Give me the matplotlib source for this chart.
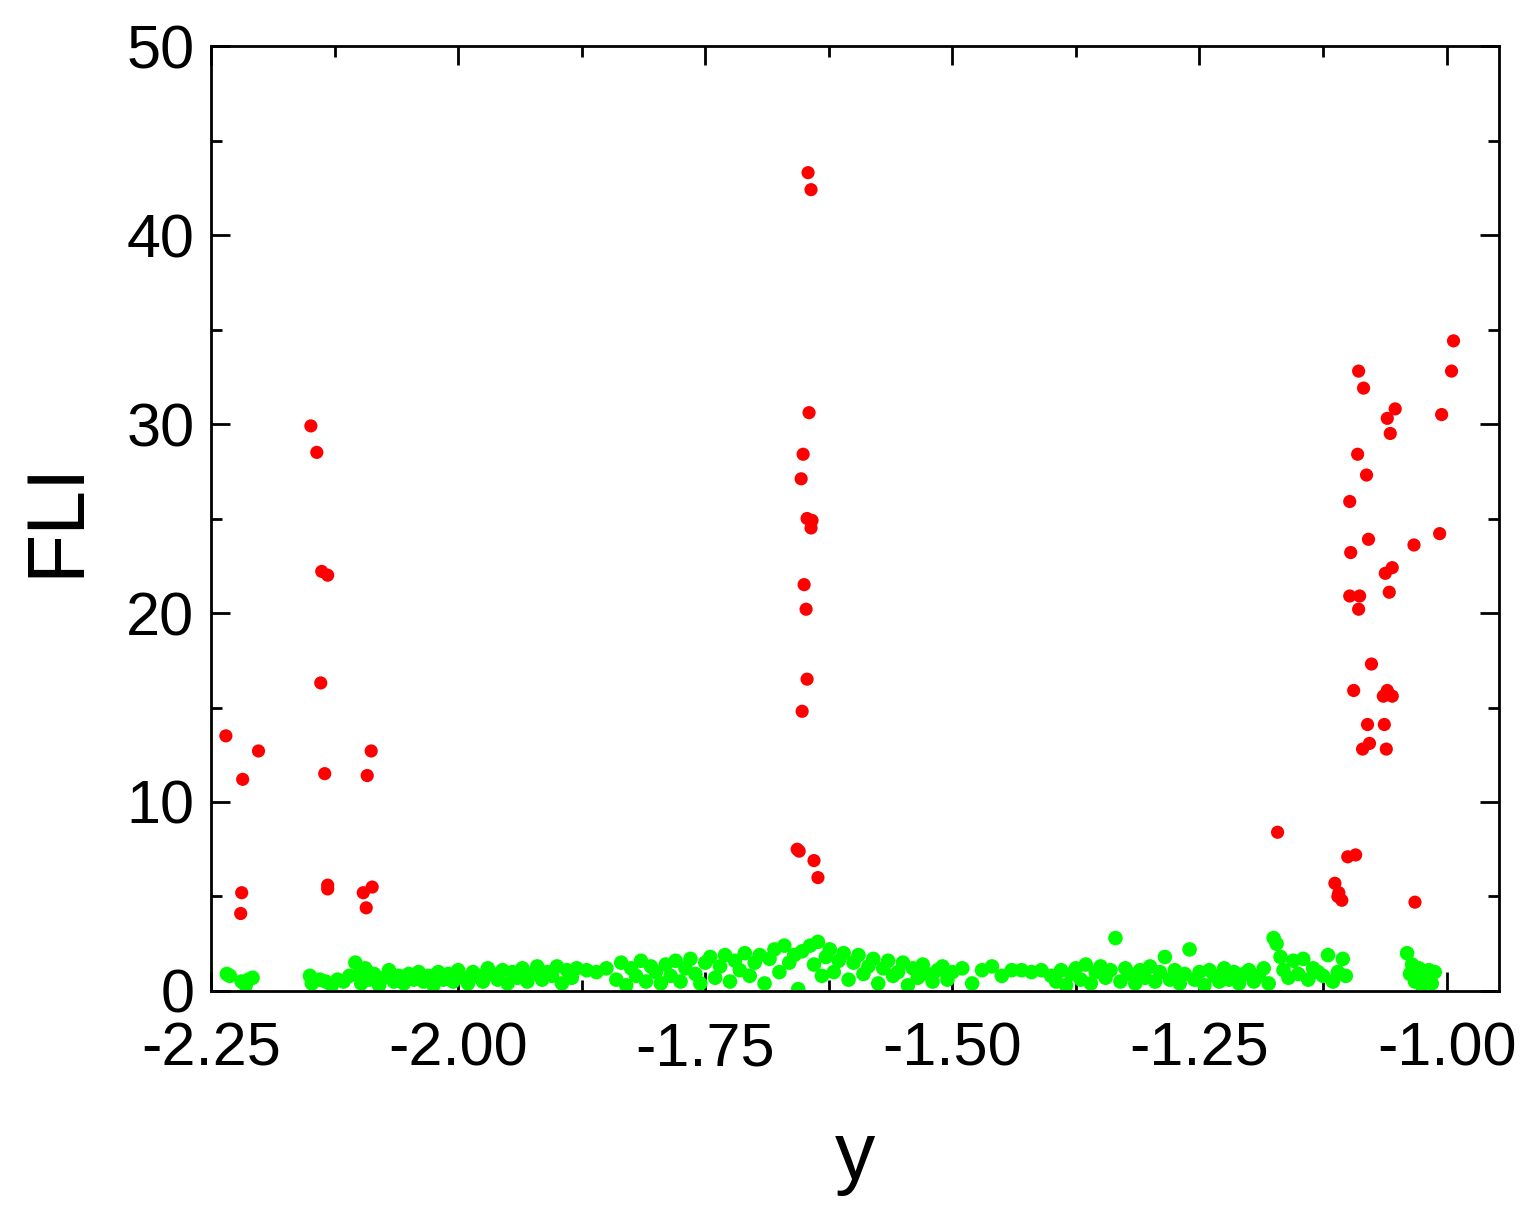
import matplotlib
matplotlib.use("Agg")
import matplotlib.pyplot as plt
from matplotlib.ticker import MultipleLocator

plt.rcParams['font.family'] = ['Liberation Sans', 'DejaVu Sans']

red_x = [-2.235,-2.218,-2.219,-2.220,-2.202,-2.149,-2.143,-2.139,-2.138,-2.132,-2.135,-2.132,-2.132,
         -2.096,-2.093,-2.092,-2.088,-2.087,
         -1.646,-1.643,-1.645,-1.651,-1.653,-1.647,-1.642,-1.643,-1.650,-1.648,-1.647,-1.652,-1.657,-1.655,-1.640,-1.636,
         -1.171,-1.113,-1.109,-1.110,-1.106,-1.100,-1.092,-1.098,-1.097,-1.098,-1.088,-1.089,-1.094,-1.089,-1.084,-1.090,
         -1.081,-1.079,-1.076,-1.080,-1.078,-1.085,-1.063,-1.061,-1.064,-1.060,-1.055,-1.062,-1.055,-1.058,-1.060,-1.057,
         -1.052,-1.033,-1.032,-1.007,-1.005,-0.995,-0.993]
red_y = [13.5,11.2,5.2,4.1,12.7,29.9,28.5,16.3,22.2,22.0,11.5,5.6,5.4,
         5.2,4.4,11.4,12.7,5.5,
         43.3,42.4,30.6,28.4,27.1,25.0,24.9,24.5,21.5,20.2,16.5,14.8,7.5,7.4,6.9,6.0,
         8.4,5.7,5.2,5.0,4.8,7.1,7.2,25.9,23.2,20.9,20.9,20.2,15.9,32.8,31.9,28.4,
         27.3,23.9,17.3,14.1,13.1,12.8,14.1,12.8,15.6,15.9,15.6,22.1,22.4,21.1,30.3,29.5,
         30.8,23.6,4.7,24.2,30.5,32.8,34.4]

green_x = [-2.234,-2.231,-2.219,-2.215,-2.212,-2.208,-2.150,-2.148,-2.140,-2.134,-2.128,-2.122,-2.116,-2.110,
           -2.104,-2.100,-2.098,-2.094,-2.090,-2.085,-2.080,-2.075,-2.070,-2.065,-2.060,-2.055,-2.050,-2.045,
           -2.040,-2.035,-2.030,-2.025,-2.020,-2.015,-2.010,-2.005,-2.000,-1.995,-1.990,-1.985,-1.980,-1.975,
           -1.970,-1.965,-1.960,-1.955,-1.950,-1.945,-1.940,-1.935,-1.930,-1.925,-1.920,-1.915,-1.910,-1.905,
           -1.900,-1.895,-1.890,-1.885,-1.880,-1.870,-1.860,-1.850,-1.840,-1.835,-1.830,-1.825,-1.820,-1.815,
           -1.810,-1.805,-1.800,-1.795,-1.790,-1.785,-1.780,-1.775,-1.770,-1.765,-1.760,-1.755,-1.750,-1.745,
           -1.740,-1.735,-1.730,-1.725,-1.720,-1.715,-1.710,-1.705,-1.700,-1.695,-1.690,-1.685,-1.680,-1.675,
           -1.670,-1.665,-1.660,-1.656,-1.652,-1.644,-1.640,-1.636,-1.632,-1.628,-1.624,-1.620,-1.615,-1.610,
           -1.605,-1.600,-1.595,-1.590,-1.585,-1.580,-1.575,-1.570,-1.565,-1.560,-1.555,-1.550,-1.545,-1.540,
           -1.535,-1.530,-1.525,-1.520,-1.515,-1.510,-1.505,-1.500,-1.490,-1.480,-1.470,-1.460,-1.450,-1.440,
           -1.430,-1.420,-1.410,-1.400,-1.395,-1.390,-1.385,-1.380,-1.375,-1.370,-1.365,-1.360,-1.355,-1.350,
           -1.345,-1.340,-1.335,-1.330,-1.325,-1.320,-1.315,-1.310,-1.305,-1.300,-1.295,-1.290,-1.285,-1.280,
           -1.275,-1.270,-1.265,-1.260,-1.255,-1.250,-1.245,-1.240,-1.235,-1.230,-1.225,-1.220,-1.215,-1.210,
           -1.205,-1.200,-1.195,-1.190,-1.185,-1.180,-1.175,-1.172,-1.168,-1.165,-1.160,-1.155,-1.150,-1.145,
           -1.140,-1.135,-1.130,-1.125,-1.120,-1.115,-1.110,-1.105,-1.102,-1.040,-1.037,-1.035,-1.032,-1.028,
           -1.025,-1.022,-1.018,-1.015,-1.012]
green_y = [0.9,0.8,0.5,0.3,0.6,0.7,0.8,0.4,0.6,0.5,0.3,0.6,0.5,0.8,
           1.5,0.9,0.4,1.2,0.6,0.9,0.3,0.7,1.1,0.5,0.8,0.4,0.9,0.6,
           1.0,0.5,0.8,0.3,1.0,0.6,0.9,0.5,1.1,0.7,0.4,1.0,0.8,0.5,
           1.2,0.9,0.6,1.1,0.4,1.0,0.7,1.2,0.5,0.9,1.3,0.6,1.0,0.8,
           1.3,0.4,1.1,0.7,1.2,1.1,1.0,1.2,0.6,1.5,0.3,1.2,0.8,1.6,
           0.5,1.3,1.0,0.4,1.4,0.8,1.6,0.5,1.2,1.7,0.9,0.4,1.5,1.8,
           0.7,1.3,1.9,0.5,1.6,1.1,2.0,0.8,1.5,1.9,0.4,1.7,2.2,1.0,
           2.4,1.5,1.9,0.1,2.1,2.4,1.4,2.6,0.8,1.8,2.2,1.0,1.6,2.0,
           0.6,1.5,1.9,0.9,1.3,1.7,0.4,1.2,1.6,0.8,1.0,1.5,0.3,1.2,
           0.7,1.4,0.9,0.5,1.1,1.3,0.6,1.0,1.2,0.4,1.1,1.3,0.8,1.1,
           1.1,1.0,1.1,0.8,0.5,1.1,0.3,0.9,1.2,0.6,1.4,0.4,1.0,1.3,
           0.7,1.1,2.8,0.5,1.2,0.9,0.4,1.1,0.7,1.3,0.5,1.0,1.8,0.6,
           1.1,0.4,0.9,2.2,0.6,1.0,0.3,1.1,0.8,0.5,1.2,0.6,1.0,0.4,
           0.9,1.1,0.5,0.8,1.2,0.4,2.8,2.5,1.8,1.1,0.7,1.6,0.9,1.7,
           0.6,1.2,1.0,0.8,1.9,0.5,1.0,1.7,0.8,2.0,0.9,1.4,0.5,1.2,
           0.3,0.9,1.1,0.4,1.0]

fig = plt.figure(figsize=(15.36, 12.05), dpi=100)
ax = fig.add_axes([0.1374, 0.1776, 0.8385, 0.7842])
ax.scatter(green_x, green_y, s=110, c='#00ff00', edgecolors='none', zorder=2)
ax.scatter(red_x, red_y, s=90, c='#ff0000', edgecolors='none', zorder=3)
ax.set_xlim(-2.25, -0.947)
ax.set_ylim(0, 50)
ax.xaxis.set_major_locator(MultipleLocator(0.25))
ax.xaxis.set_minor_locator(MultipleLocator(0.125))
ax.yaxis.set_major_locator(MultipleLocator(10))
ax.yaxis.set_minor_locator(MultipleLocator(5))
ax.xaxis.set_major_formatter(matplotlib.ticker.FuncFormatter(lambda v, p: f"{v:.2f}"))
ax.tick_params(which='both', direction='in', top=True, right=True, width=2, labelsize=44)
ax.tick_params(axis='x', pad=22)
ax.tick_params(axis='y', pad=12)
ax.tick_params(which='major', length=14)
ax.tick_params(which='minor', length=8)
for s in ax.spines.values():
    s.set_linewidth(2)
ax.set_xlabel('y', fontsize=58, labelpad=30)
ax.set_ylabel('FLI', fontsize=58, labelpad=22)
fig.savefig('out.png', dpi=100)
